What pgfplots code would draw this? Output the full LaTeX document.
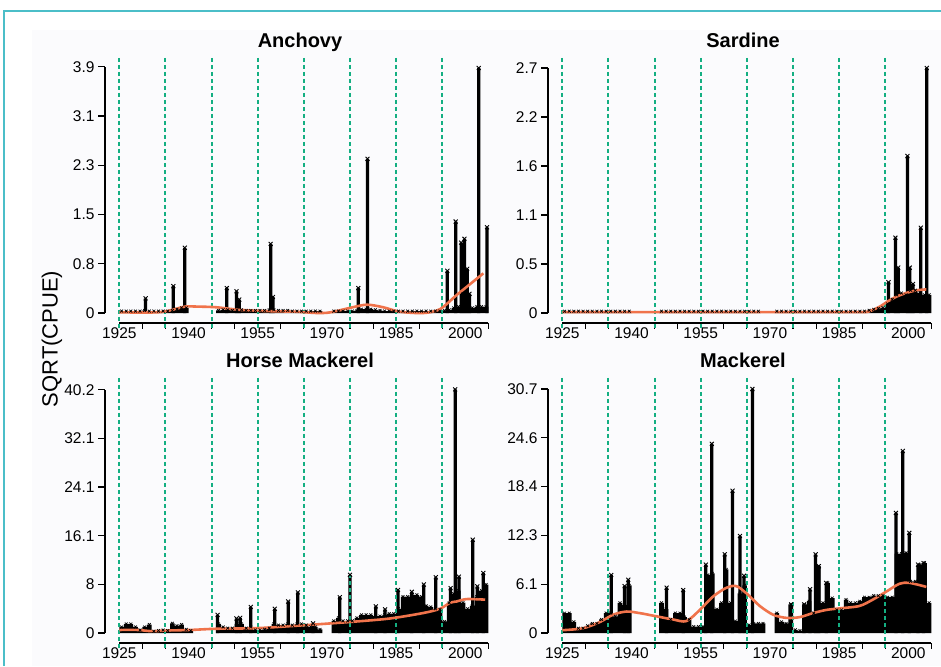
\documentclass[border=0pt]{standalone}
\usepackage{pgfplots}
\pgfplotsset{compat=1.18}
\usepackage{pgfplotstable}
\usepackage{fontspec}
\setmainfont{Liberation Sans}

\definecolor{framecyan}{RGB}{75,190,200}
\definecolor{gridgreen}{RGB}{20,175,130}
\definecolor{smoothc}{RGB}{240,115,75}
\definecolor{bgc}{RGB}{251,251,253}

% ---------- Anchovy ----------
\pgfplotstableread{
yr v
1925 0.03
1926 0.03
1927 0.03
1928 0.03
1929 0.03
1930 0.04
1931 0.03
1932 0.03
1933 0.03
1934 0.03
1935 0.03
1936 0.04
1937 0.06
1938 0.08
1939 0.08
1946 0.04
1947 0.05
1948 0.05
1949 0.04
1950 0.05
1951 0.05
1952 0.04
1953 0.04
1954 0.04
1955 0.04
1956 0.04
1957 0.05
1958 0.05
1959 0.04
1960 0.04
1961 0.04
1962 0.03
1963 0.03
1964 0.03
1965 0.03
1966 0.03
1967 0.03
1968 0.03
1971 0.03
1972 0.03
1973 0.03
1974 0.03
1975 0.03
1976 0.04
1977 0.06
1978 0.06
1979 0.06
1980 0.05
1981 0.04
1982 0.03
1983 0.03
1984 0.03
1985 0.03
1986 0.03
1987 0.03
1988 0.03
1989 0.03
1990 0.03
1991 0.03
1992 0.03
1993 0.03
1994 0.03
1995 0.04
1996 0.05
1997 0.08
1998 0.10
1999 0.30
2000 0.30
2001 0.08
2002 0.10
2003 0.10
2004 0.10
}\anchbody
\pgfplotstableread{
yr v
1930.7 0.23
1936.7 0.42
1939.2 1.02
1948.3 0.39
1950.4 0.34
1951.0 0.21
1957.8 1.08
1958.3 0.25
1976.8 0.39
1978.8 2.41
1996.1 0.66
1997.9 1.43
1999.1 1.10
1999.8 1.16
2000.4 0.69
2000.9 0.30
2002.9 3.83
2004.7 1.34
}\anchspike
\pgfplotstableread{
yr v
1925 0.01
1933 0.01
1936 0.04
1939.2 0.10
1942 0.10
1946 0.09
1951 0.05
1957 0.03
1963.4 0.02
1967.8 0.00
1970.7 0.01
1975 0.08
1978.6 0.13
1982.2 0.09
1985.8 0.02
1990.9 0.00
1994.5 0.06
1998.1 0.28
2001 0.45
2003.9 0.62
}\anchsmooth

% ---------- Sardine ----------
\pgfplotstableread{
yr v
1925 0.02
1926 0.02
1927 0.02
1928 0.02
1929 0.02
1930 0.02
1931 0.02
1932 0.02
1933 0.02
1934 0.02
1935 0.02
1936 0.02
1937 0.02
1938 0.02
1939 0.02
1946 0.02
1947 0.02
1948 0.02
1949 0.02
1950 0.02
1951 0.02
1952 0.02
1953 0.02
1954 0.02
1955 0.02
1956 0.02
1957 0.02
1958 0.02
1959 0.02
1960 0.02
1961 0.02
1962 0.02
1963 0.02
1964 0.02
1965 0.02
1966 0.02
1967 0.02
1971 0.02
1972 0.02
1973 0.02
1974 0.02
1975 0.02
1976 0.02
1977 0.02
1978 0.02
1979 0.02
1980 0.02
1981 0.02
1982 0.02
1983 0.02
1984 0.02
1985 0.02
1986 0.02
1987 0.02
1988 0.02
1989 0.02
1990 0.02
1991 0.03
1992 0.04
1993 0.05
1994 0.06
1995 0.10
1996 0.15
1997 0.20
1998 0.22
1999 0.20
2000 0.25
2001 0.25
2002 0.22
2003 0.20
2004 0.20
}\sardbody
\pgfplotstableread{
yr v
1995.7 0.34
1997.2 0.83
1997.8 0.50
1999.8 1.73
2000.3 0.50
2001.0 0.32
2002.7 0.94
2004.0 2.70
}\sardspike
\pgfplotstableread{
yr v
1925 0.01
1940 0.01
1955 0.01
1970 0.01
1985 0.01
1990.2 0.01
1991.6 0.02
1993.8 0.07
1995.6 0.13
1997.4 0.18
1999.5 0.22
2001.7 0.25
2003.9 0.26
}\sardsmooth

% ---------- Horse Mackerel ----------
\pgfplotstableread{
yr v
1925 1.0
1926 1.5
1927 1.5
1928 1.0
1929 0.5
1930 1.0
1931 1.4
1932 0.3
1933 0.4
1934 0.5
1935 0.4
1936 1.6
1937 1.2
1938 1.4
1939 0.6
1940 0.4
1946 1.5
1947 1.0
1948 0.8
1949 0.8
1950 1.5
1951 1.5
1952 0.8
1953 1.0
1954 0.5
1955 0.5
1956 0.6
1957 0.8
1958 1.5
1959 1.3
1960 1.3
1961 1.5
1962 1.3
1963 1.5
1964 1.5
1965 1.3
1966 1.0
1967 1.0
1968 0.6
1971 2.0
1972 2.5
1973 2.0
1974 2.0
1975 2.0
1976 2.5
1977 3.0
1978 3.0
1979 3.0
1980 2.8
1981 2.8
1982 3.0
1983 3.2
1984 3.2
1985 4.0
1986 6.0
1987 6.0
1988 6.3
1989 6.3
1990 6.0
1991 4.5
1992 4.3
1993 4.0
1994 3.9
1995 1.9
1996 5.0
1997 6.5
1998 7.0
1999 5.0
2000 4.0
2001 4.5
2002 6.0
2003 7.0
2004 8.0
}\hmbody
\pgfplotstableread{
yr v
1946.3 3.0
1950.4 2.4
1951.2 2.5
1953.5 4.3
1958.7 4.0
1961.6 5.2
1963.7 6.7
1967.0 1.6
1972.8 5.9
1975.0 9.6
1980.6 4.4
1982.6 3.9
1985.4 7.1
1988.4 6.8
1991.0 8.0
1993.6 9.2
1996.8 7.4
1997.8 40.2
1998.6 9.3
2001.6 15.4
2002.6 7.7
2003.9 9.9
}\hmspike
\pgfplotstableread{
yr v
1925 0.5
1929 0.5
1932 0.3
1935 0.4
1940.3 0.5
1946.1 0.7
1954.8 0.8
1963.4 1.2
1969.2 1.5
1976.4 1.9
1983.7 2.4
1990.9 3.3
1994.5 4.0
1996.7 5.0
1998.1 5.2
2000.3 5.6
2004.3 5.5
}\hmsmooth

% ---------- Mackerel ----------
\pgfplotstableread{
yr v
1925 2.5
1926 2.5
1927 1.4
1928 0.6
1929 0.6
1930 0.9
1931 1.2
1932 1.2
1933 1.7
1934 2.5
1935 2.5
1936 2.1
1937 3.8
1938 3.5
1939 6.0
1946 3.8
1947 3.0
1948 1.7
1949 2.5
1950 2.5
1951 2.0
1952 1.7
1953 0.8
1954 0.8
1955 0.8
1956 7.3
1957 7.5
1958 3.0
1959 3.8
1960 8.0
1961 3.8
1962 1.5
1963 5.0
1964 6.0
1965 1.0
1966 1.2
1967 1.2
1968 1.2
1971 2.5
1972 1.4
1973 1.2
1974 3.6
1975 0.4
1976 0.3
1977 3.6
1978 4.0
1979 2.5
1980 8.4
1981 3.8
1982 6.3
1983 4.4
1984 2.9
1985 2.9
1986 4.2
1987 3.8
1988 3.8
1989 4.0
1990 4.5
1991 4.5
1992 4.7
1993 4.7
1994 4.7
1995 4.5
1996 4.5
1997 10.0
1998 10.0
1999 10.1
2000 6.5
2001 6.5
2002 8.6
2003 8.8
2004 3.8
}\mackbody
\pgfplotstableread{
yr v
1935.6 7.3
1938.5 5.9
1939.3 6.7
1947.6 5.7
1951.2 5.4
1956.1 8.6
1957.4 23.8
1960.2 9.9
1961.9 17.9
1963.5 12.2
1964.4 7.2
1966.2 30.7
1974.6 3.6
1977.4 3.6
1978.7 5.5
1979.9 9.9
1980.6 8.4
1982.2 6.3
1997.3 15.1
1998.8 22.9
2000.2 12.6
2002.1 8.6
2003.3 8.8
}\mackspike
\pgfplotstableread{
yr v
1925 0.35
1929.5 0.6
1933.2 1.4
1936 2.3
1938.9 2.7
1941.8 2.5
1945.4 2.1
1949 1.7
1951.9 1.5
1954.8 2.9
1957.7 4.6
1960.6 5.7
1962.7 5.9
1964.9 5.0
1967.8 3.4
1970.7 2.3
1973.6 1.9
1976.5 2.0
1979.3 2.5
1982.2 2.9
1985.1 3.1
1989.4 3.4
1992.3 4.2
1995.2 5.2
1998.1 6.2
2000.3 6.3
2003.9 5.8
}\macksmooth

\pgfplotsset{
  panel/.style={
    scale only axis, width=390pt, height=265pt,
    xmin=1921.9, xmax=2006.43,
    axis line style={draw=none},
    clip=false,
    tick align=outside, tick pos=left,
    major tick length=7pt,
    xtick={1925,1940,1955,1970,1985,2000},
    xticklabels={1925,1940,1955,1970,1985,2000},
    xtick style={draw=none},
    ytick style={draw=black, line width=1.1pt},
    tick label style={font=\fontsize{15.5}{17}\selectfont},
    x tick label style={yshift=6pt},
    title style={font=\fontsize{20}{22}\selectfont\bfseries,
      at={(0.5,1)}, anchor=base, yshift=4pt},
  },
  body/.style={ybar, bar width=1, bar shift=0pt, fill=black, draw=none,
    mark=x, mark size=2pt, mark options={draw=black, line width=0.7pt}},
  spike/.style={ybar, bar width=0.7, bar shift=0pt, fill=black, draw=none,
    mark=x, mark size=2.8pt, mark options={draw=black, line width=0.9pt}},
  loess/.style={smooth, smoothc, line width=2.6pt, no markers},
}

\newcommand{\panelframe}[1]{%
  \draw[line width=1.1pt] ({rel axis cs:0,0}|-{axis cs:1925,0}) -- ({rel axis cs:0,0}|-{axis cs:1925,#1});
  \draw[line width=1.1pt] ({axis cs:1925,0}|-{rel axis cs:0,0}) -- ({axis cs:2005,0}|-{rel axis cs:0,0});
  \pgfplotsinvokeforeach{1930,1935,1945,1950,1960,1965,1975,1980,1990,1995,2005}{
    \draw[line width=1.1pt] ({axis cs:##1,0}|-{rel axis cs:0,0}) -- ++(0pt,-6pt);}
  \pgfplotsinvokeforeach{1925,1935,1945,1955,1965,1975,1985,1995}{
    \draw[gridgreen, line width=2pt, dash pattern=on 4pt off 3pt]
      ({axis cs:##1,0}|-{rel axis cs:0,1}) -- ({axis cs:##1,0}|-{rel axis cs:0,0}) -- ++(0pt,-6pt);}
}

\begin{document}
\begin{tikzpicture}
\path[use as bounding box] (0pt,0pt) rectangle (941pt,666pt);
\fill[bgc] (32pt,0pt) rectangle (941pt,636pt);
\draw[framecyan, line width=2.5pt] (4pt,0pt) -- (4pt,655pt) -- (941pt,655pt);
\node[rotate=90, font=\fontsize{22}{24}\selectfont] at (52pt,327pt) {SQRT(CPUE)};

\begin{axis}[panel, at={(105pt,343pt)}, anchor=south west,
  ymin=-0.156, ymax=3.986,
  ytick={0,0.77,1.54,2.31,3.08,3.85}, yticklabels={0,0.8,1.5,2.3,3.1,3.9},
  title={Anchovy}]
\addplot[body] table[x expr=\thisrow{yr}+0.5, y=v] {\anchbody};
\addplot[spike] table[x=yr, y=v] {\anchspike};
\panelframe{3.85}
\addplot[loess] table[x=yr, y=v] {\anchsmooth};
\end{axis}

\begin{axis}[panel, at={(548pt,343pt)}, anchor=south west,
  ymin=-0.110, ymax=2.810,
  ytick={0,0.54,1.08,1.62,2.16,2.7}, yticklabels={0,0.5,1.1,1.6,2.2,2.7},
  title={Sardine}]
\addplot[body] table[x expr=\thisrow{yr}+0.5, y=v] {\sardbody};
\addplot[spike] table[x=yr, y=v] {\sardspike};
\panelframe{2.7}
\addplot[loess] table[x=yr, y=v] {\sardsmooth};
\end{axis}

\begin{axis}[panel, at={(105pt,23pt)}, anchor=south west,
  ymin=-1.650, ymax=42.08,
  ytick={0,8.03,16.06,24.09,32.12,40.15}, yticklabels={0,8,16.1,24.1,32.1,40.2},
  title={Horse Mackerel}]
\addplot[body] table[x expr=\thisrow{yr}+0.5, y=v] {\hmbody};
\addplot[spike] table[x=yr, y=v] {\hmspike};
\panelframe{40.15}
\addplot[loess] table[x=yr, y=v] {\hmsmooth};
\end{axis}

\begin{axis}[panel, at={(548pt,23pt)}, anchor=south west,
  ymin=-1.258, ymax=32.08,
  ytick={0,6.14,12.28,18.42,24.56,30.7}, yticklabels={0,6.1,12.3,18.4,24.6,30.7},
  title={Mackerel}]
\addplot[body] table[x expr=\thisrow{yr}+0.5, y=v] {\mackbody};
\addplot[spike] table[x=yr, y=v] {\mackspike};
\panelframe{30.7}
\addplot[loess] table[x=yr, y=v] {\macksmooth};
\end{axis}
\end{tikzpicture}
\end{document}
